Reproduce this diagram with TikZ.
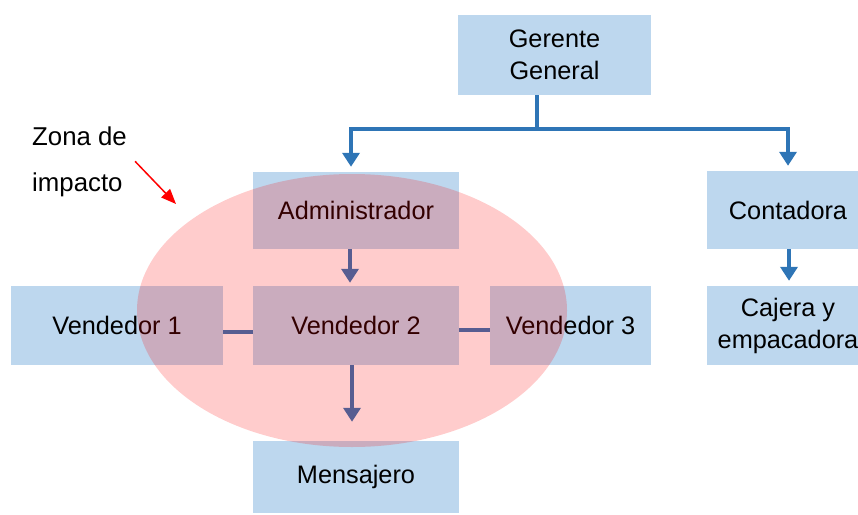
\documentclass[tikz,border=0pt]{standalone}
\usepackage{fontspec}
\setmainfont{Liberation Sans}
\usetikzlibrary{arrows.meta}
\definecolor{boxblue}{RGB}{189,215,238}
\definecolor{linkblue}{RGB}{46,117,182}
\begin{document}
\begin{tikzpicture}[x=1pt,y=-1pt,
  role/.style={fill=boxblue, draw=none, inner sep=0pt, minimum width=#1,
    minimum height=79pt, align=center, font=\fontsize{25.3}{32}\selectfont},
  link/.style={draw=linkblue, line width=4pt},
  arrow/.style={link, -{Triangle[width=17pt,length=14pt]}},
]
\clip (0,0) rectangle (858,514);

% organisation chart boxes
\node[role=193pt, minimum height=80pt] (gg) at (554.5,55) {Gerente\\General};
\node[role=206pt, minimum height=77pt] (adm) at (356,210.5) {Administrador};
\node[role=162pt, minimum height=78pt] (cont) at (788,210) {Contadora};
\node[role=162pt] (caj) at (788,325.5) {Cajera y\\empacadora};
\node[role=212pt] (v1) at (117,325.5) {Vendedor 1};
\node[role=206pt] (v2) at (356,325.5) {Vendedor 2};
\node[role=161pt] (v3) at (570.5,325.5) {Vendedor 3};
\node[role=206pt, minimum height=72pt] (mens) at (356,477) {Mensajero};

% branching connector from the general manager
\coordinate (split) at (537,129);
\coordinate (barL) at (351,129);
\coordinate (barR) at (788,129);
\draw[link] (gg.south -| split) -- (split);
\draw[link, {Triangle[width=17pt,length=14pt]}-{Triangle[width=17pt,length=14pt]},
  shorten <=5pt, shorten >=5pt]
  (adm.north -| barL) -- (barL) -- (barR) -- (cont.north -| barR);

% remaining links
\draw[arrow, shorten >=3pt] ([xshift=-6pt]adm.south) -- ([xshift=-6pt]v2.north);
\draw[arrow, shorten >=19pt] ([xshift=-4pt]v2.south) -- ([xshift=-4pt]mens.north);
\draw[arrow, shorten >=5pt] ([xshift=1pt]cont.south) -- ([xshift=1pt]caj.north);
\draw[link] ([yshift=-6.5pt]v1.east) -- ([yshift=-6.5pt]v1.east -| v2.west);
\draw[link] ([yshift=-4.5pt]v2.east) -- ([yshift=-4.5pt]v2.east -| v3.west);

% highlighted zone
\fill[red, opacity=0.2] (352,310.5) ellipse [x radius=215, y radius=136.5];

% zone label and pointer
\node[anchor=base west, align=left, inner sep=0pt,
  font=\fontsize{25.8}{46}\selectfont] (zona) at (32,191) {Zona de\\impacto};
\coordinate (aim) at (176,204);
\draw[red, line width=1.5pt, -{Triangle[width=12pt,length=15pt]}]
  ([xshift=8pt]zona.east) -- (aim);
\end{tikzpicture}
\end{document}
